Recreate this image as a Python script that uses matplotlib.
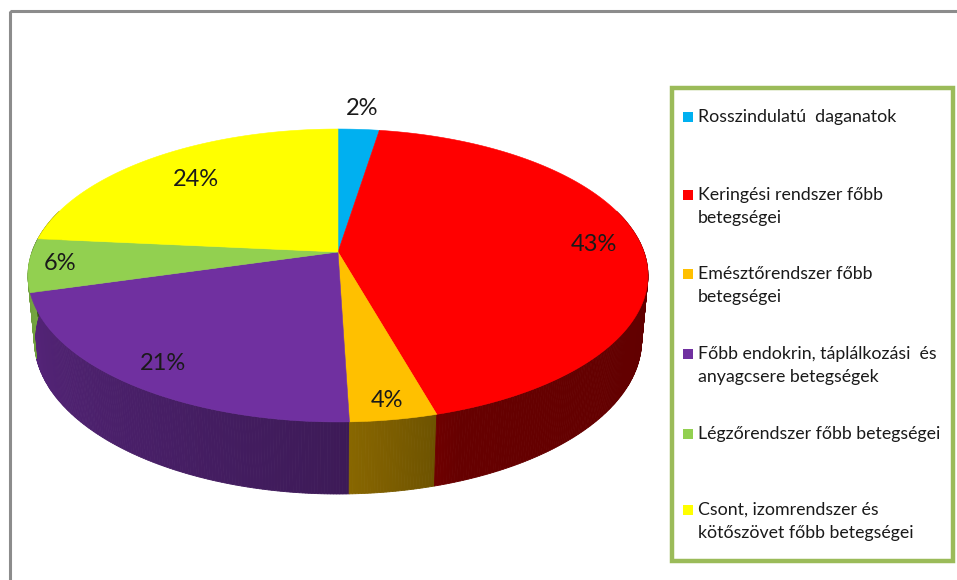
import numpy as np
import matplotlib
matplotlib.use("Agg")
import matplotlib.pyplot as plt
from matplotlib.patches import Polygon, Rectangle

# ---------------- data ----------------
categories = [
    "Rosszindulatú  daganatok",
    "Keringési rendszer főbb\nbetegségei",
    "Emésztőrendszer főbb\nbetegségei",
    "Főbb endokrin, táplálkozási  és\nanyagcsere betegségek",
    "Légzőrendszer főbb betegségei",
    "Csont, izomrendszer és\nkötőszövet főbb betegségei",
]
values = [2.5, 43.1, 3.9, 21.1, 5.9, 23.5]
pct_labels = ["2%", "43%", "4%", "21%", "6%", "24%"]
colors = ["#00B0F0", "#FF0000", "#FFC000", "#7030A0", "#92D050", "#FFFF00"]

# ---------------- layout / projection ----------------
W, H = 957, 580
CX, CY = 338, 252          # pixel of pie centre
ELEV = np.arcsin(0.4664)   # camera elevation
DIST = 5.517               # camera distance (in radii)
SCALE = 1688.0             # px per projected unit
THICK = 0.2418             # pie thickness (in radii)

fwd = np.array([0.0, np.cos(ELEV), -np.sin(ELEV)])
up = np.array([0.0, np.sin(ELEV), np.cos(ELEV)])
right = np.array([1.0, 0.0, 0.0])
cam = -DIST * fwd


def proj(r, a, z=0.0):
    """a: clockwise angle from 12 o'clock (radians)."""
    r = np.asarray(r, float)
    a = np.asarray(a, float)
    P = np.stack(np.broadcast_arrays(r * np.sin(a), r * np.cos(a), np.full_like(a * r, z)), axis=-1)
    rel = P - cam
    d = rel @ fwd
    u = (rel @ right) / d
    v = (rel @ up) / d
    return CX + SCALE * u, CY - SCALE * v


def shade(hexcol, phi_deg):
    # phi_deg: math angle of outward normal (0=right, -90=front, -180=left)
    p = np.clip(phi_deg, -180, 0)
    f = np.interp(p, [-180, -90, -70, 0], [0.80, 0.55, 0.40, 0.38])
    rgb = np.array(matplotlib.colors.to_rgb(hexcol))
    return tuple(rgb * f)


fig = plt.figure(figsize=(W / 100, H / 100), dpi=100)
ax = fig.add_axes([0, 0, 1, 1])
ax.set_xlim(0, W)
ax.set_ylim(H, 0)
ax.axis("off")

# outer frame
ax.add_patch(Rectangle((9.5, 10.5), 980, 600, fill=False, edgecolor="#8C8C8C", lw=2.2))

total = float(sum(values))
bounds = np.concatenate([[0], np.cumsum(values)]) / total * 2 * np.pi

# side walls: collect segments, sort back to front
segs = []
for i, col in enumerate(colors):
    a0, a1 = bounds[i], bounds[i + 1]
    n = max(2, int(np.degrees(a1 - a0) * 2))
    aa = np.linspace(a0, a1, n + 1)
    for k in range(n):
        am = 0.5 * (aa[k] + aa[k + 1])
        yworld = np.cos(am)
        if yworld > 0.3:
            continue
        xt, yt = proj(1.0, aa[k:k + 2], 0.0)
        xb, yb = proj(1.0, aa[k:k + 2], -THICK)
        poly = [(xt[0], yt[0]), (xt[1], yt[1]), (xb[1], yb[1]), (xb[0], yb[0])]
        phi = np.degrees(np.arctan2(np.cos(am), np.sin(am)))
        c = shade(col, phi)
        segs.append((-yworld, poly, c))
segs.sort(key=lambda s: -s[0])
for _, poly, c in segs:
    ax.add_patch(Polygon(poly, closed=True, facecolor=c, edgecolor=c, lw=0.6))

# top faces
for i, col in enumerate(colors):
    a0, a1 = bounds[i], bounds[i + 1]
    n = max(4, int(np.degrees(a1 - a0) * 2))
    aa = np.linspace(a0, a1, n + 1)
    xs, ys = proj(np.ones_like(aa), aa, 0.0)
    pts = [(CX, CY)] + list(zip(xs, ys))
    ax.add_patch(Polygon(pts, closed=True, facecolor=col, edgecolor=col, lw=0.4))

# percentage labels
label_r = [1.2, 0.845, 0.9, 0.86, 0.9, 0.75]
for i, lab in enumerate(pct_labels):
    am = 0.5 * (bounds[i] + bounds[i + 1])
    x, y = proj(label_r[i], am, 0.0)
    ax.text(float(x), float(y), lab, ha="center", va="center", fontsize=17,
            family="Lato", color="#1a1a1a")

# legend
ax.add_patch(Rectangle((672, 88), 281, 473, facecolor="white", edgecolor="#9BBB59", lw=3.2))
leg_y = [117, 195, 274, 354, 434, 510]
line_gap = 23
for i, (cat, col) in enumerate(zip(categories, colors)):
    y = leg_y[i]
    ax.add_patch(Rectangle((683, y - 5), 10, 10, facecolor=col, edgecolor="none"))
    for j, line in enumerate(cat.split("\n")):
        ax.text(698, y + j * line_gap, line, ha="left", va="center", fontsize=12.8,
                family="Lato", color="#1a1a1a")

fig.savefig("out.png", dpi=100)
